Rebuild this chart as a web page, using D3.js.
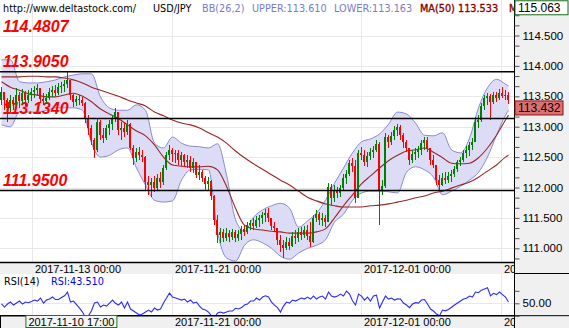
<!DOCTYPE html>
<html><head><meta charset="utf-8">
<script src="https://cdn.jsdelivr.net/npm/d3@7"></script>
<style>body{margin:0;background:#fff}svg{display:block}</style>
</head><body>
<svg id="c" width="569" height="328"></svg>
<script>
// ---- DATA (hourly USD/JPY bars) ----
const firstOpen = 113.44;
const highs = [113.65,113.57,113.47,113.52,113.49,113.64,113.57,113.62,113.59,113.60,
113.64,113.67,113.70,113.64,113.55,113.54,113.64,113.67,113.69,113.72,
113.74,113.77,113.905,113.77,113.54,113.50,113.52,113.49,113.40,113.19,
113.03,112.81,113.14,113.11,112.98,113.03,113.11,113.19,113.31,113.24,
113.08,113.08,113.11,113.06,112.70,112.65,112.67,112.62,112.52,112.19,
112.16,112.19,112.22,112.25,112.37,112.58,112.70,112.65,112.62,112.62,
112.58,112.55,112.53,112.52,112.49,112.42,112.37,112.29,112.19,112.17,
112.12,111.88,111.55,111.33,111.32,111.33,111.30,111.32,111.30,111.30,
111.37,111.38,111.43,111.47,111.50,111.53,111.55,111.60,111.65,111.66,
111.50,111.43,111.33,111.22,111.14,111.19,111.17,111.27,111.30,111.33,
111.35,111.37,111.38,111.43,111.55,111.63,111.60,111.58,111.55,112.07,
112.06,112.04,112.01,112.04,112.22,112.29,112.45,112.49,112.45,112.62,
112.67,112.62,112.58,112.65,112.68,112.78,112.75,112.12,112.90,112.86,
112.91,113.01,113.04,113.03,112.90,112.78,112.65,112.62,112.65,112.68,
112.78,112.83,112.83,112.65,112.53,112.37,112.21,112.24,112.25,112.25,
112.29,112.35,112.45,112.50,112.62,112.68,112.75,112.81,113.16,113.19,
113.39,113.52,113.55,113.54,113.57,113.57,113.62,113.65,113.60,113.57];
const lows = [113.36,113.27,113.08,113.24,113.27,113.34,113.31,113.37,113.34,113.39,
113.42,113.47,113.50,113.39,113.36,113.37,113.44,113.49,113.50,113.52,
113.55,113.57,113.64,113.44,113.32,113.34,113.36,113.34,113.06,112.86,
112.70,112.49,112.58,112.78,112.73,112.78,112.86,112.95,113.08,112.86,
112.78,112.83,112.86,112.62,112.37,112.42,112.45,112.42,111.96,111.88,
111.84,111.93,111.96,111.99,112.04,112.29,112.45,112.42,112.40,112.37,
112.35,112.34,112.32,112.25,112.24,112.16,112.12,112.09,111.96,111.96,
111.79,111.38,111.09,111.09,111.10,111.12,111.10,111.14,111.10,111.12,
111.14,111.20,111.23,111.30,111.30,111.33,111.35,111.40,111.43,111.43,
111.30,111.27,111.05,110.94,110.84,110.97,110.97,111.02,111.07,111.10,
111.14,111.17,111.14,111.02,111.08,111.43,111.38,111.37,111.35,111.43,
111.71,111.76,111.83,111.84,111.96,112.06,112.19,112.25,111.74,111.83,
112.45,112.35,112.34,112.45,112.49,112.58,111.38,111.88,111.99,112.65,
112.70,112.78,112.85,112.78,112.65,112.58,112.37,112.40,112.45,112.49,
112.53,112.62,112.58,112.37,112.32,112.04,111.96,112.02,112.06,112.07,
112.09,112.17,112.25,112.35,112.42,112.49,112.52,112.62,112.75,112.98,
113.08,113.27,113.36,113.11,113.37,113.41,113.44,113.47,113.44,113.37];
const closes = [113.57,113.44,113.31,113.44,113.37,113.52,113.42,113.55,113.44,113.52,
113.57,113.60,113.64,113.46,113.42,113.47,113.57,113.60,113.55,113.65,
113.67,113.70,113.77,113.52,113.41,113.46,113.44,113.39,113.14,112.98,
112.78,112.62,113.08,112.86,112.81,112.98,113.04,113.14,113.24,112.95,
112.98,112.91,113.04,112.65,112.49,112.58,112.53,112.50,112.09,112.04,
112.09,111.99,112.16,112.09,112.32,112.53,112.62,112.55,112.57,112.45,
112.53,112.42,112.45,112.32,112.42,112.21,112.25,112.16,112.06,112.11,
111.86,111.47,111.22,111.27,111.17,111.25,111.19,111.27,111.17,111.23,
111.32,111.27,111.38,111.42,111.37,111.47,111.50,111.55,111.58,111.50,
111.37,111.33,111.14,111.05,111.00,111.10,111.04,111.20,111.17,111.27,
111.22,111.30,111.20,111.10,111.50,111.56,111.47,111.50,111.43,112.01,
111.83,111.96,111.91,111.99,112.16,112.22,112.40,112.35,111.83,112.57,
112.53,112.42,112.52,112.58,112.62,112.72,111.96,112.02,112.83,112.75,
112.85,112.95,113.00,112.86,112.75,112.65,112.45,112.55,112.58,112.62,
112.73,112.78,112.65,112.45,112.37,112.12,112.04,112.16,112.12,112.19,
112.22,112.30,112.42,112.45,112.57,112.62,112.70,112.75,113.08,113.11,
113.34,113.47,113.50,113.41,113.52,113.47,113.55,113.50,113.52,113.432];

// indicator lines sampled every 3 bars (+ last bar)
const bbUpper = [114.10,114.10,113.74,113.72,113.72,113.74,113.77,113.82,113.85,113.87,
113.87,113.49,113.31,113.27,113.27,113.36,113.27,112.73,112.65,112.83,
112.73,112.68,112.67,112.65,112.72,112.21,111.47,111.28,111.51,111.63,
111.70,111.74,111.66,111.35,111.45,111.58,111.79,112.07,112.32,112.57,
112.75,112.80,112.88,113.04,113.24,113.21,113.06,112.86,112.85,112.90,
112.62,112.57,112.81,113.31,113.64,113.78,113.70,113.67];
const bbLower = [113.03,113.00,113.24,113.24,113.24,113.27,113.31,113.31,113.31,113.27,
112.73,112.50,112.53,112.62,112.65,112.32,112.04,111.79,111.76,111.78,
112.12,112.29,112.30,112.29,111.27,110.84,110.79,111.05,111.14,111.09,
111.00,110.87,110.82,110.92,111.00,111.05,111.14,111.43,111.56,111.79,
111.91,111.94,111.94,111.93,111.91,112.25,112.34,112.29,112.17,111.88,
111.94,112.02,112.12,112.25,112.50,112.86,113.19,113.27];
const ma50 = [113.74,113.65,113.60,113.54,113.52,113.49,113.49,113.52,113.55,113.50,
113.41,113.29,113.21,113.13,113.03,112.93,112.85,112.70,112.50,112.37,
112.35,112.34,112.34,112.35,112.29,112.02,111.66,111.38,111.32,111.30,
111.28,111.27,111.25,111.25,111.25,111.27,111.32,111.50,111.70,111.88,
112.06,112.19,112.32,112.44,112.53,112.60,112.62,112.65,112.58,112.49,
112.40,112.39,112.40,112.49,112.65,112.86,113.11,113.19];
const maLong = [113.82,113.82,113.82,113.83,113.83,113.82,113.82,113.80,113.77,113.72,
113.65,113.60,113.55,113.50,113.44,113.39,113.34,113.24,113.18,113.11,
113.06,113.03,112.98,112.90,112.83,112.73,112.60,112.49,112.39,112.30,
112.21,112.12,112.04,111.94,111.84,111.78,111.73,111.70,111.68,111.68,
111.68,111.70,111.71,111.73,111.76,111.79,111.83,111.86,111.91,111.94,
111.99,112.04,112.09,112.17,112.27,112.37,112.50,112.53];

const rsi = [49.5,47.0,49.4,51.0,48.6,50.2,51.8,49.4,51.0,50.5,
51.5,52.6,51.8,54.2,50.2,52.6,53.4,55.0,53.0,53.0,
54.6,56.0,59.0,51.0,51.8,49.0,46.2,43.0,38.5,40.0,
44.0,50.2,51.0,47.0,48.6,47.8,50.2,52.6,50.0,48.6,
51.0,46.2,51.0,45.4,43.8,42.2,40.6,41.4,43.0,44.6,
43.0,46.2,44.6,45.4,50.2,54.2,58.2,55.0,54.2,53.4,
52.6,53.4,51.0,52.6,50.2,51.0,47.8,45.4,44.6,43.0,
40.0,38.5,42.2,43.0,42.2,43.0,43.8,43.8,46.0,45.5,
46.6,48.6,49.4,51.8,51.8,54.2,52.6,55.0,56.0,55.0,
51.0,48.5,46.5,43.0,47.8,51.0,50.2,52.6,51.8,53.0,
54.2,53.4,55.0,53.4,55.8,53.4,55.0,55.8,53.4,59.0,
55.8,55.0,55.8,57.4,55.8,59.8,57.4,52.0,48.6,57.4,
55.8,52.6,55.0,51.8,55.8,56.5,46.2,51.0,55.8,53.4,
54.2,52.6,53.5,53.4,50.2,48.6,46.5,49.4,50.5,50.2,
52.6,53.0,49.4,45.4,43.8,41.4,40.0,44.6,44.0,45.0,
46.8,48.6,50.2,51.8,53.4,54.0,55.8,55.0,59.0,58.5,
60.5,61.5,62.5,56.0,58.0,57.0,59.0,57.0,55.0,51.0];

const priceGrid = [111.0,111.5,112.0,112.5,113.0,113.5,114.0,114.5];
const levelValues = [113.905, 113.134, 111.95];
const levelLabelValues = [114.4807, 113.905, 113.134, 111.95];
const levelLabelTexts = ["114.4807","113.9050","113.1340","111.9500"];
const dateLabels = ["2017-11-13 00:00","2017-11-21 00:00","2017-12-01 00:00","20"];
const dateBars = [10.17, 56.83, 119.83, 166.5];
const crossLabel = "2017-11-10 17:00";
const crossBar = 23.3;
const axisTop = 115.063, lastPrice = 113.432;
const rsiLast = 43.510;
const headerTexts = ["http://www.deltastock.com/","USD/JPY","BB(26,2)","UPPER:113.610","LOWER:113.163","MA(50)","113.533","M"];
const headerColors = ["#000","#000","#7a7ac8","#7a7ac8","#7a7ac8","#8b0000","#8b0000","#8b0000"];

// ---- LAYOUT ----
const svg = d3.select("#c");
const plotR = 514, mainB = 262, rsiT = 274, rsiB = 315.7;
const headerX = [3,153,202,252,334,420,458,509];
const xs = d3.scaleLinear().domain([0, 169]).range([1.5, 508.5]);
const ys = d3.scaleLinear().domain([111, 115]).range([248.3, 5.1]);
const yr = d3.scaleLinear().domain([40, 60]).range([315.8, 290.8]);
const lineIdx = d3.range(0, 169, 3).concat([169]);
const opens = closes.map((c, i) => i ? closes[i - 1] : firstOpen);

svg.append("rect").attr("width", 569).attr("height", 328).attr("fill", "#fff");
const defs = svg.append("defs");
defs.append("clipPath").attr("id", "cm").append("rect").attr("x", 0).attr("y", 0).attr("width", plotR).attr("height", mainB);
defs.append("clipPath").attr("id", "cr").append("rect").attr("x", 0).attr("y", rsiT).attr("width", plotR).attr("height", rsiB - rsiT);
defs.append("clipPath").attr("id", "cs").append("rect").attr("x", 0).attr("y", 0).attr("width", plotR).attr("height", 328);

// grid
const grid = svg.append("g").attr("stroke", "#e8e8e8").attr("stroke-width", 1).attr("shape-rendering", "crispEdges");
priceGrid.forEach(v => grid.append("line").attr("x1", 0).attr("x2", plotR).attr("y1", Math.round(ys(v)) + 0.5).attr("y2", Math.round(ys(v)) + 0.5));
dateBars.forEach(b => {
  const x = Math.round(xs(b)) + 0.5;
  grid.append("line").attr("x1", x).attr("x2", x).attr("y1", 0).attr("y2", mainB);
  grid.append("line").attr("x1", x).attr("x2", x).attr("y1", rsiT).attr("y2", rsiB);
});
grid.append("line").attr("x1", 0).attr("x2", plotR).attr("y1", Math.round(yr(50)) + 0.5).attr("y2", Math.round(yr(50)) + 0.5);

// header
const hdr = svg.append("g").attr("clip-path", "url(#cs)").attr("font-family", "DejaVu Sans, Verdana, sans-serif").attr("font-size", 9.7);
headerTexts.forEach((t, k) => hdr.append("text").attr("x", headerX[k]).attr("y", 12).attr("fill", headerColors[k])
  .attr("stroke", k >= 5 ? headerColors[k] : "none").attr("stroke-width", 0.35).text(t));

// main plot
const main = svg.append("g").attr("clip-path", "url(#cm)");
const area = d3.area().x((d, k) => xs(lineIdx[k])).y0((d, k) => ys(bbLower[k])).y1(d => ys(d)).curve(d3.curveMonotoneX);
main.append("path").datum(bbUpper).attr("d", area).attr("fill", "#dcdcf6");
const ln = arr => d3.line().x((d, k) => xs(lineIdx[k])).y(d => ys(d)).curve(d3.curveMonotoneX)(arr);
main.append("path").attr("d", ln(bbUpper)).attr("fill", "none").attr("stroke", "#8a8ad0").attr("stroke-width", 1);
main.append("path").attr("d", ln(bbLower)).attr("fill", "none").attr("stroke", "#8a8ad0").attr("stroke-width", 1);
main.append("path").attr("d", ln(maLong)).attr("fill", "none").attr("stroke", "#9b2626").attr("stroke-width", 1.1);
main.append("path").attr("d", ln(ma50)).attr("fill", "none").attr("stroke", "#9b2626").attr("stroke-width", 1.1);

levelLabelValues.forEach((v, k) => main.append("text").attr("x", 3).attr("y", ys(v) - 5)
  .attr("font-family", "Liberation Sans, Arial, sans-serif").attr("font-size", 16).attr("font-weight", "bold").attr("font-style", "italic")
  .attr("fill", "#ff0000").text(levelLabelTexts[k]));

const cg = main.append("g").attr("shape-rendering", "crispEdges");
closes.forEach((c, i) => {
  const o = opens[i], col = c > o ? "#008000" : "#ff0000";
  const x = xs(i);
  cg.append("line").attr("x1", x).attr("x2", x).attr("y1", ys(highs[i])).attr("y2", ys(lows[i])).attr("stroke", col);
  const y0 = ys(Math.max(o, c)), y1 = ys(Math.min(o, c));
  cg.append("rect").attr("x", x - 1.5).attr("y", y0).attr("width", 2).attr("height", Math.max(1, y1 - y0)).attr("fill", col);
});

levelValues.forEach(v => main.append("line").attr("x1", 0).attr("x2", plotR).attr("y1", ys(v)).attr("y2", ys(v)).attr("stroke", "#000").attr("stroke-width", 1.6));

// date strip under main plot
svg.append("rect").attr("x", 0).attr("y", mainB).attr("width", plotR).attr("height", rsiT - mainB).attr("fill", "#f0f0f0");
svg.append("line").attr("x1", 0).attr("x2", plotR).attr("y1", mainB + 0.5).attr("y2", mainB + 0.5).attr("stroke", "#000").attr("stroke-width", 1.5);
const dateFont = "Liberation Sans, Arial, sans-serif";
const topDates = svg.append("g").attr("clip-path", "url(#cs)").attr("font-family", dateFont).attr("font-size", 11).attr("fill", "#000");
dateBars.forEach((b, k) => topDates.append("text").attr("x", Math.round(xs(b)) + 3).attr("y", 272.5).text(dateLabels[k]));

// RSI panel
const rp = svg.append("g").attr("clip-path", "url(#cr)");
rp.append("path").datum(rsi).attr("d", d3.line().x((d, i) => xs(i)).y(d => yr(d))).attr("fill", "none").attr("stroke", "#2a2aff").attr("stroke-width", 1.1);
svg.append("text").attr("x", 4).attr("y", 285).attr("font-family", "DejaVu Sans, Verdana, sans-serif").attr("font-size", 9.7).attr("fill", "#000").text("RSI(14)");
svg.append("text").attr("x", 51).attr("y", 285).attr("font-family", "DejaVu Sans, Verdana, sans-serif").attr("font-size", 9.7).attr("fill", "#0000ff").text("RSI:" + rsiLast.toFixed(3));

// bottom strip
svg.append("rect").attr("x", 0).attr("y", rsiB).attr("width", plotR).attr("height", 328 - rsiB).attr("fill", "#f0f0f0");
svg.append("line").attr("x1", 0).attr("x2", plotR).attr("y1", rsiB).attr("y2", rsiB).attr("stroke", "#000").attr("stroke-width", 1.5);
svg.append("line").attr("x1", 0.5).attr("x2", 0.5).attr("y1", rsiB).attr("y2", 328).attr("stroke", "#000");
const botDates = svg.append("g").attr("clip-path", "url(#cs)").attr("font-family", dateFont).attr("font-size", 11).attr("fill", "#000");
dateBars.forEach((b, k) => { if (k > 0) botDates.append("text").attr("x", Math.round(xs(b)) + 3).attr("y", 325.5).text(dateLabels[k]); });
const cx = xs(crossBar);
svg.append("rect").attr("x", cx - 45.5).attr("y", 315.5).attr("width", 91).attr("height", 12).attr("fill", "#f4f4f4").attr("stroke", "#1a7a1a");
svg.append("text").attr("x", cx).attr("y", 325.5).attr("text-anchor", "middle").attr("font-family", dateFont).attr("font-size", 11).text(crossLabel);

// right axis area
const ax = svg.append("g");
ax.append("rect").attr("x", plotR).attr("y", 0).attr("width", 569 - plotR).attr("height", 328).attr("fill", "#f0f0f0");
ax.append("line").attr("x1", plotR + 0.5).attr("x2", plotR + 0.5).attr("y1", 0).attr("y2", 328).attr("stroke", "#000");
ax.append("line").attr("x1", plotR).attr("x2", 569).attr("y1", 273.5).attr("y2", 273.5).attr("stroke", "#000");
ax.append("line").attr("x1", plotR).attr("x2", 569).attr("y1", rsiB).attr("y2", rsiB).attr("stroke", "#000");
const minor = d3.range(0, 26).map(k => 110.8333 + k / 6).filter(v => v < 114.9);
const yAxis = d3.axisRight(ys).tickValues(minor).tickSize(5)
  .tickFormat(v => Math.abs(v * 2 - Math.round(v * 2)) < 0.01 ? d3.format(".3f")(v) : "");
const ya = svg.append("g").attr("transform", `translate(${plotR + 0.5},0)`).call(yAxis);
ya.select(".domain").remove();
ya.selectAll("line").attr("stroke", "#555");
ya.selectAll("text").attr("font-family", dateFont).attr("font-size", 11.5).attr("fill", "#000").attr("x", 8);
const rAxis = d3.axisRight(yr).tickValues([40, 50, 60]).tickSize(5).tickFormat(v => v === 50 ? "50.00" : "");
const ra = svg.append("g").attr("transform", `translate(${plotR + 0.5},0)`).call(rAxis);
ra.select(".domain").remove();
ra.selectAll("line").attr("stroke", "#555");
ra.selectAll("text").attr("font-family", dateFont).attr("font-size", 11.5).attr("fill", "#000").attr("x", 8);

// value boxes
svg.append("rect").attr("x", plotR + 1).attr("y", ys(axisTop) - 0.5).attr("width", 53).attr("height", 14).attr("fill", "#fff").attr("stroke", "#1a6b1a");
svg.append("text").attr("x", plotR + 4).attr("y", ys(axisTop) + 11).attr("font-family", dateFont).attr("font-size", 12).text(axisTop.toFixed(3));
svg.append("rect").attr("x", plotR + 1).attr("y", ys(lastPrice) + 0.5).attr("width", 48).attr("height", 14).attr("fill", "#dd7070").attr("stroke", "#8b1010");
svg.append("text").attr("x", plotR + 4).attr("y", ys(lastPrice) + 12).attr("font-family", dateFont).attr("font-size", 12).text(lastPrice.toFixed(3));
</script>
</body></html>
